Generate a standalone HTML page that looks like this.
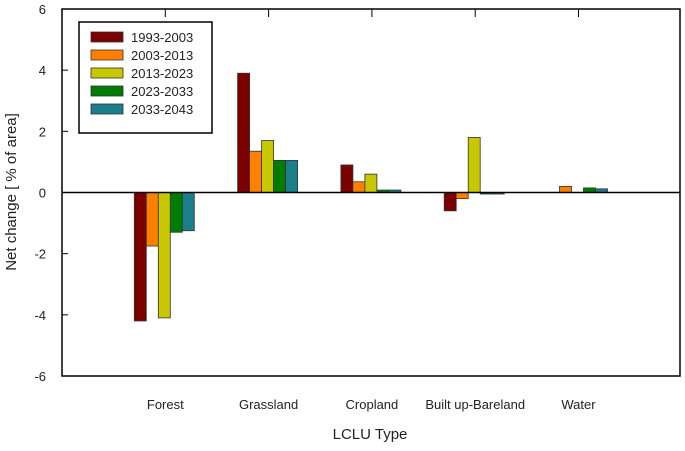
<!DOCTYPE html>
<html><head><meta charset="utf-8"><style>
body{margin:0;background:#fff;font-family:"Liberation Sans",sans-serif}
svg text{font-family:"Liberation Sans",sans-serif;fill:#222}
</style></head><body>
<svg id="c" width="685" height="446"></svg>
<script>
const categories=["Forest","Grassland","Cropland","Built up-Bareland","Water"];
const seriesNames=["1993-2003","2003-2013","2013-2023","2023-2033","2033-2043"];
const s1=[-4.2,3.9,0.9,-0.6,0];
const s2=[-1.75,1.35,0.35,-0.2,0.2];
const s3=[-4.1,1.7,0.6,1.8,0];
const s4=[-1.3,1.05,0.08,-0.05,0.15];
const s5=[-1.25,1.05,0.08,-0.05,0.12];
const yTicks=[-6,-4,-2,0,2,4,6];
const series=[s1,s2,s3,s4,s5];
const colors=["#7b0000","#ff8000","#c8c800","#007d00","#1a7f8a"];
const L=62,R=680,T=9,B=376;
const svg=document.getElementById('c');const NS="http://www.w3.org/2000/svg";
function el(t,a,p){const e=document.createElementNS(NS,t);for(const k in a)e.setAttribute(k,a[k]);(p||svg).appendChild(e);return e;}
const y=v=>T+(6-v)/12*(B-T);
const xc=i=>L+(i+1)*103.3;
const bw=12;
const frame=el('rect',{x:L,y:T,width:R-L,height:B-T,fill:'none',stroke:'#000','stroke-width':1.5});

yTicks.forEach(v=>{
 const tk=el('line',{x1:L,x2:L+6,y1:y(v),y2:y(v),stroke:'#000'});
 
 const t=el('text',{x:L-16,y:y(v)+5,'text-anchor':'end','font-size':13});t.textContent=v;
 
});
categories.forEach((c,i)=>{
 const tk=el('line',{x1:xc(i),x2:xc(i),y1:T,y2:T+8,stroke:'#000'});
 
 const t=el('text',{x:xc(i),y:409,'text-anchor':'middle','font-size':13});t.textContent=c;
 
 series.forEach((s,j)=>{
  const v=s[i];if(v===0)return;
  const x=xc(i)-2.5*bw+j*bw-1;
  const r=el('rect',{x:x,y:Math.min(y(v),y(0)),width:bw,height:Math.abs(y(v)-y(0)),fill:colors[j],stroke:'#333','stroke-width':0.8});
  
  
 });
});
const zl=el('line',{x1:L,x2:R,y1:y(0),y2:y(0),stroke:'#000','stroke-width':1.5});

const lg=el('rect',{x:79,y:22,width:133,height:111,fill:'#fff',stroke:'#000','stroke-width':1.5});

seriesNames.forEach((n,j)=>{
 const yy=37+j*18;
 const sw=el('rect',{x:91,y:yy-5,width:32,height:10,fill:colors[j],stroke:'#333','stroke-width':0.8});
 
 const t=el('text',{x:131,y:yy+5,'font-size':13});t.textContent=n;
 
});
const yt=el('text',{x:0,y:0,'text-anchor':'middle','font-size':15,transform:'translate(16,192) rotate(-90)'});yt.textContent="Net change [ % of area]";

const xt=el('text',{x:370,y:439,'text-anchor':'middle','font-size':15});xt.textContent="LCLU Type";

</script>
</body></html>
